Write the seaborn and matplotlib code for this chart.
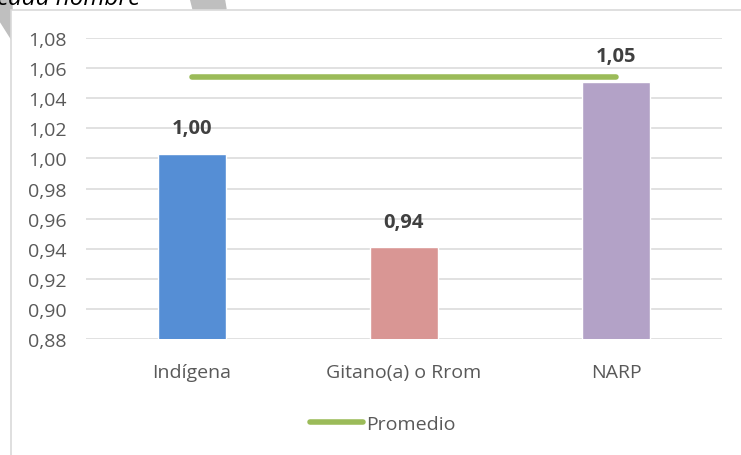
import matplotlib
matplotlib.use("Agg")
import matplotlib.pyplot as plt
import seaborn as sns
from matplotlib.patches import Polygon, Rectangle

# ---------- DATA ----------
categories = ["Indígena", "Gitano(a) o Rrom", "NARP"]
values = [1.003, 0.941, 1.051]
promedio = [1.054, 1.054, 1.054]
yticks = [0.88, 0.90, 0.92, 0.94, 0.96, 0.98, 1.00, 1.02, 1.04, 1.06, 1.08]
bar_colors = ["#558ED5", "#D99694", "#B3A2C7"]

# ---------- STYLE ----------
sns.set_theme(style="white")
plt.rcParams["font.family"] = ["Open Sans", "DejaVu Sans"]

W, H = 741, 456
fig = plt.figure(figsize=(W / 100, H / 100), dpi=100)
ax = fig.add_axes([86 / W, 1 - 340 / H, (722 - 86) / W, (340 - 39) / H])
ax.set_facecolor("none")

def px(x, y):
    return (x / W, 1 - y / H)

# background decorations outside the chart frame
for pts in ([(0, 0), (12, 0), (12, 41), (0, 22)],
            [(190, -2), (224, -2), (226, 10), (193, 10)]):
    fig.patches.append(Polygon([px(*p) for p in pts], closed=True,
                               transform=fig.transFigure, color="#BFBFBF", zorder=-3))
fig.patches.append(Rectangle(px(10.5, 470), (W + 20) / W, (470 - 10.5) / H,
                             transform=fig.transFigure, facecolor="white",
                             edgecolor="#D9D9D9", lw=1.2, zorder=-2))
fig.text(-0.004, 1 - 5 / H, "cada hombre", style="italic", fontsize=17.5,
         color="black", va="baseline", ha="left")

# ---------- PLOT ----------
sns.barplot(x=categories, y=values, hue=categories, palette=bar_colors,
            saturation=1, width=0.32, legend=False, ax=ax, zorder=2)
sns.lineplot(x=categories, y=promedio, color="#9BBB59", lw=4,
             solid_capstyle="round", label="Promedio", ax=ax, zorder=3)

for i, v in enumerate(values):
    ax.annotate(f"{v:.2f}".replace(".", ","), (i, v), xytext=(0, 18.5),
                textcoords="offset points", ha="center", va="center",
                fontsize=14.5, fontweight="bold", color="#404040")

ax.set_ylim(0.88, 1.08)
ax.set_xlim(-0.5, 2.5)
ax.set_yticks(yticks)
ax.set_yticklabels([f"{t:.2f}".replace(".", ",") for t in yticks])
ax.yaxis.grid(True, color="#D9D9D9", lw=1.1)
ax.set_axisbelow(True)
for s in ax.spines.values():
    s.set_visible(False)
ax.tick_params(axis="y", length=0, pad=14, labelsize=14, labelcolor="#595959")
ax.tick_params(axis="x", length=0, pad=17, labelsize=14, labelcolor="#595959")
ax.set_xlabel("")
ax.set_ylabel("")

handles, labels = ax.get_legend_handles_labels()
if ax.get_legend() is not None:
    ax.get_legend().remove()
leg = fig.legend(handles, labels, loc="center", bbox_to_anchor=px(383, 425),
                 frameon=False, fontsize=14, handlelength=2.7, handletextpad=0.2)
for t in leg.get_texts():
    t.set_color("#595959")

fig.savefig("out.png", dpi=100)
